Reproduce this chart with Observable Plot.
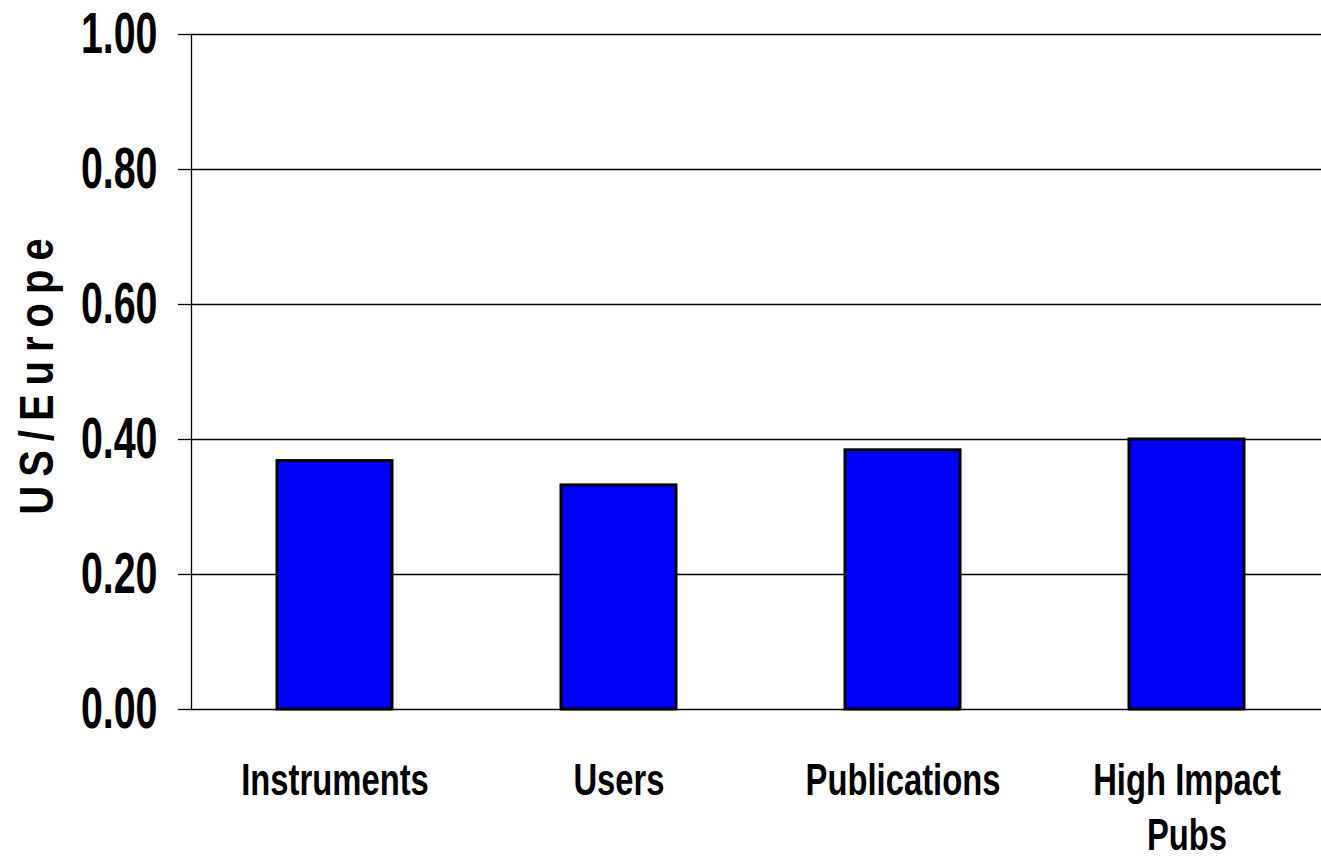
<!DOCTYPE html>
<html><head><meta charset="utf-8">
<script src="https://cdn.jsdelivr.net/npm/d3@7"></script>
<script src="https://cdn.jsdelivr.net/npm/@observablehq/plot@0.6"></script>
<style>body{margin:0;background:#fff}</style>
</head><body><div id="chart"></div>
<script>
const categories = ["Instruments", "Users", "Publications", "High Impact\nPubs"];
const values = [0.368, 0.332, 0.384, 0.400];
const yTicks = [0, 0.2, 0.4, 0.6, 0.8, 1.0];
const yLabel = "US/Europe";

const data = categories.map((c, i) => ({category: c, value: values[i]}));
const sans = "'Liberation Sans', Arial, sans-serif";

const chart = Plot.plot({
  width: 1321, height: 863,
  marginLeft: 191, marginRight: 0, marginTop: 34, marginBottom: 154,
  style: {background: "#fff", fontFamily: sans, color: "#000", overflow: "visible"},
  x: {domain: categories, range: [191, 1330], paddingInner: 0.596, paddingOuter: 0.297, axis: null},
  y: {domain: [0, 1], range: [709, 34], axis: null},
  marks: [
    Plot.ruleY(yTicks, {stroke: "#000", strokeWidth: 1.3}),
    Plot.axisY({ticks: yTicks, tickSize: 13, tickPadding: 21, tickFormat: d => d.toFixed(2),
      fontSize: 48, fontWeight: "bold", label: null, stroke: "#000", strokeWidth: 1.3, strokeOpacity: 1,
      className: "yticks"}),
    Plot.frame({anchor: "left", stroke: "#000", strokeWidth: 1.3}),
    Plot.barY(data, {x: "category", y: "value", fill: "#0000ff", stroke: "#000", strokeWidth: 3}),
    Plot.text(data, {x: "category", text: "category", frameAnchor: "bottom", lineAnchor: "top",
      dy: 46, fontSize: 40, fontWeight: "bold", lineHeight: 1.23, fill: "#000", className: "xlabels"}),
    Plot.text([yLabel], {frameAnchor: "left", textAnchor: "middle", dx: -154, rotate: -90, fontSize: 40,
      fontWeight: "bold", fill: "#000", className: "ylabel"})
  ]
});
document.getElementById("chart").appendChild(chart);

// narrow, vertically stretched glyphs, like the reference
const svg = document.querySelector("#chart svg");
svg.querySelectorAll(".ylabel text").forEach(t => { t.style.letterSpacing = "9px"; });
function stretch(sel, sx, sy, ax, ay) {
  svg.querySelectorAll(sel).forEach(t => {
    const b = t.getBBox();
    const px = b.x + ax * b.width, py = b.y + ay * b.height;
    const tr = t.getAttribute("transform") || "";
    t.setAttribute("transform", `${tr} translate(${px},${py}) scale(${sx},${sy}) translate(${-px},${-py})`);
  });
}
stretch(".yticks text", 0.82, 1.19, 1, 0.5);
stretch(".xlabels text", 0.82, 1.12, 0.5, 0);
stretch(".ylabel text", 1, 1.2, 0.5, 0.5);
</script>
</body></html>
